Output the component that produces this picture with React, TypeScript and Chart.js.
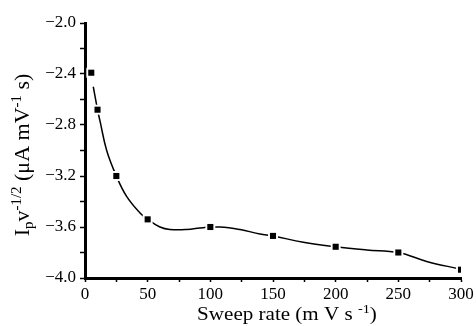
import React, { useEffect, useRef } from "react";
import { Chart, registerables } from "chart.js";

Chart.register(...registerables);

// Measured points (sweep rate, Ip v^-1/2)
const sweepRates = [5, 10, 25, 50, 100, 150, 200, 250, 300];
const currentValues = [-2.39, -2.68, -3.2, -3.54, -3.6, -3.67, -3.755, -3.8, -3.935];

// Fitted curve
const fitX = [6.6, 10, 12, 17.3, 25, 33.2, 43.9, 50, 59.8, 67.8, 81, 94.4, 107.7, 123.7, 139.6, 150, 174.2, 200, 224.8, 250, 272.6, 299.2];
const fitY = [-2.5, -2.68, -2.77, -3.0, -3.2, -3.36, -3.49, -3.54, -3.6, -3.62, -3.62, -3.605, -3.6, -3.62, -3.655, -3.67, -3.72, -3.755, -3.78, -3.8, -3.87, -3.93];

const xTitle = [
  { t: "Sweep rate (m V s ", k: "n" },
  { t: "-1", k: "sup" },
  { t: ")", k: "n" },
];
const yTitle = [
  { t: "I", k: "n" },
  { t: "p", k: "sub" },
  { t: "v", k: "n" },
  { t: "-1/2", k: "sup" },
  { t: " (μA mV", k: "n" },
  { t: "-1", k: "sup" },
  { t: " s)", k: "n" },
];

const FONT = "'Liberation Serif', 'DejaVu Serif', serif";

function drawRich(ctx: CanvasRenderingContext2D, segs: { t: string; k: string }[], size: number) {
  const small = size * 0.68;
  const widths = segs.map((s) => {
    ctx.font = `${s.k === "n" ? size : small}px ${FONT}`;
    return ctx.measureText(s.t).width;
  });
  const total = widths.reduce((a, b) => a + b, 0);
  let x = -total / 2;
  ctx.textBaseline = "alphabetic";
  ctx.textAlign = "left";
  segs.forEach((s, i) => {
    ctx.font = `${s.k === "n" ? size : small}px ${FONT}`;
    const dy = s.k === "sup" ? -size * 0.38 : s.k === "sub" ? size * 0.22 : 0;
    ctx.fillText(s.t, x, dy);
    x += widths[i];
  });
}

const titlesPlugin = {
  id: "richTitles",
  afterDraw(chart: any) {
    const ctx = chart.ctx as CanvasRenderingContext2D;
    ctx.save();
    ctx.fillStyle = "#000";
    ctx.translate(287, 320);
    ctx.scale(1.17, 1);
    drawRich(ctx, xTitle, 18);
    ctx.restore();
    ctx.save();
    ctx.fillStyle = "#000";
    ctx.translate(29, 155);
    ctx.rotate(-Math.PI / 2);
    ctx.scale(1.1, 1);
    drawRich(ctx, yTitle, 20);
    ctx.restore();
  },
};

export default function App() {
  const ref = useRef<HTMLCanvasElement>(null);
  useEffect(() => {
    document.body.style.margin = "0";
    const pts = sweepRates.map((x, i) => ({ x, y: currentValues[i] }));
    const fit = fitX.map((x, i) => ({ x, y: fitY[i] }));
    const chart = new Chart(ref.current!, {
      type: "scatter",
      data: {
        datasets: [
          {
            data: fit,
            showLine: true,
            borderColor: "#000",
            borderWidth: 1.5,
            pointRadius: 0,
            tension: 0.4,
            order: 3,
          },
          {
            data: pts,
            pointStyle: "rect",
            pointRadius: 7,
            backgroundColor: "#fff",
            borderWidth: 0,
            pointBorderWidth: 0,
            order: 2,
          },
          {
            data: pts,
            pointStyle: "rect",
            pointRadius: 4.3,
            backgroundColor: "#000",
            pointBorderWidth: 0,
            borderWidth: 0,
            order: 1,
          },
        ],
      },
      options: {
        responsive: false,
        animation: false,
        layout: { padding: { top: 23, right: 15, left: 0, bottom: 0 } },
        plugins: { legend: { display: false }, tooltip: { enabled: false } },
        scales: {
          x: {
            type: "linear",
            min: 0,
            max: 300,
            afterFit: (s: any) => {
              s.height = 48;
            },
            ticks: {
              stepSize: 25,
              autoSkip: false,
              maxRotation: 0,
              color: "#000",
              padding: 2,
              font: { family: FONT, size: 17 },
              callback: (v: any) => (Number(v) % 50 === 0 ? String(v) : ""),
            },
            grid: { drawOnChartArea: false, drawTicks: true, tickLength: 4, tickColor: "#000", tickWidth: 1.5 },
            border: { display: true, color: "#000", width: 3 },
          },
          y: {
            type: "linear",
            min: -4,
            max: -2,
            afterFit: (s: any) => {
              s.width = 85;
            },
            ticks: {
              stepSize: 0.2,
              autoSkip: false,
              color: "#000",
              padding: 4,
              font: { family: FONT, size: 17 },
              callback: (v: any) => {
                const n = Math.round(Number(v) * 10);
                return n % 4 === 0 ? (n / 10).toFixed(1).replace("-", "\u2212") : "";
              },
            },
            grid: { drawOnChartArea: false, drawTicks: true, tickLength: 5, tickColor: "#000", tickWidth: 1.5 },
            border: { display: true, color: "#000", width: 3 },
          },
        },
      },
      plugins: [titlesPlugin],
    });
    return () => chart.destroy();
  }, []);
  return <canvas ref={ref} width={476} height={326} style={{ display: "block", width: 476, height: 326 }} />;
}
